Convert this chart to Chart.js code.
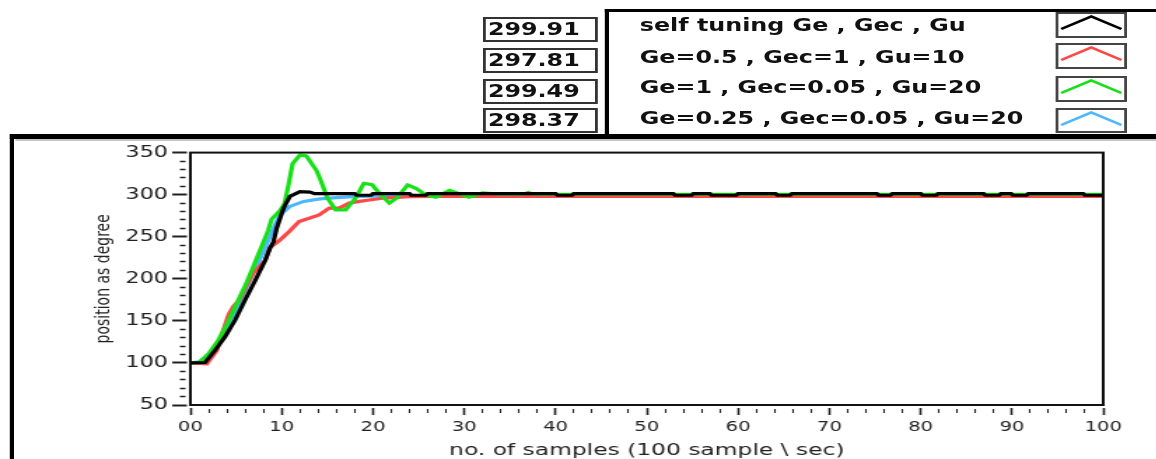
<!DOCTYPE html>
<html lang="en">
<head>
  <meta charset="UTF-8" />
  <title>Position response</title>
  <script src="https://cdn.jsdelivr.net/npm/chart.js"></script>
  <style>
    html, body { margin: 0; background: #fff; overflow: hidden; width: 1156px; height: 459px; }
    /* the whole picture is stretched sideways, so lay it out narrow and scale it */
    #page {
      position: absolute; left: 0; top: 0; width: 826px; height: 459px;
      transform: scaleX(1.4); transform-origin: 0 0;
      font-family: 'DejaVu Sans', sans-serif; color: #111;
    }
    #frame {
      position: absolute; left: 7.1px; top: 133.5px; width: 900px; height: 400px;
      border-left: 3.6px solid #000; border-top: 5.5px solid #000;
    }
    #shade { position: absolute; left: 10.7px; top: 139px; width: 900px; height: 1.5px; background: #c4c4c4; }
    #legend {
      position: absolute; left: 432px; top: 9.3px; width: 500px; height: 126px;
      border-left: 3px solid #000; border-top: 3px solid #000;
    }
    .val {
      position: absolute; left: 345px; width: 82px; height: 25px; box-sizing: border-box;
      border: 2px solid #333; font-weight: bold; font-size: 17px; line-height: 21px; padding-left: 1.5px;
    }
    .row { position: absolute; left: 457px; font-weight: bold; font-size: 17px; line-height: 20px; white-space: pre; }
    .sw { position: absolute; left: 754.3px; width: 50.7px; height: 25.5px; box-sizing: border-box; border: 2px solid #444; }
    .sw svg { display: block; }
    #plot { position: absolute; left: 11px; top: 140px; }
  </style>
</head>
<body>
<div id="page">
  <div id="frame"></div>
  <div id="shade"></div>
  <div id="legend"></div>
  <canvas id="plot" width="814" height="319"></canvas>
</div>
<script>
  // legend / readouts
  const seriesNames = ['self tuning Ge , Gec , Gu', 'Ge=0.5 , Gec=1 , Gu=10', 'Ge=1 , Gec=0.05 , Gu=20', 'Ge=0.25 , Gec=0.05 , Gu=20'];
  const finalValues = ['299.91', '297.81', '299.49', '298.37'];
  const seriesColors = ['#000000', '#ff4848', '#18e018', '#4cb8ff'];

  // axes
  const xTitle = 'no. of samples (100 sample \\ sec)';
  const yTitle = 'position as degree';

  // self tuning (black)
  const selfX = [0, 1.6, 2.7, 3.8, 4.9, 6.0, 7.1, 8.2, 8.7, 9.1, 9.45, 10.2, 10.9, 12.0, 13.1, 13.6,
    18.0, 18.2, 19.8, 20.0, 24.0, 24.2, 25.8, 26.0, 40.0, 40.2, 41.8, 42.0, 52.9, 53.1, 54.9, 55.1,
    56.9, 57.1, 59.8, 60.0, 64.1, 64.3, 65.7, 65.9, 75.2, 75.4, 76.7, 76.9, 80.0, 80.2, 81.7, 81.9,
    86.9, 87.1, 88.6, 88.8, 89.9, 90.1, 91.6, 91.8, 97.8, 98.0, 100];
  const selfY = [100, 100.5, 115, 131, 151, 175, 198, 222, 236, 244, 260, 284, 298, 303.6, 303, 301.2,
    301.2, 299.3, 299.3, 301.2, 301.2, 299.3, 299.3, 301.2, 301.2, 299.3, 299.3, 301.2, 301.2, 299.3, 299.3, 301.2,
    301.2, 299.3, 299.3, 301.2, 301.2, 299.3, 299.3, 301.2, 301.2, 299.3, 299.3, 301.2, 301.2, 299.3, 299.3, 301.2,
    301.2, 299.3, 299.3, 301.2, 301.2, 299.3, 299.3, 301.2, 301.2, 299.3, 299.3];

  // Ge=0.5 , Gec=1 , Gu=10 (red)
  const redX = [0, 1, 1.8, 2.9, 3.6, 4.2, 4.7, 5.3, 6.2, 6.9, 8.2, 8.7, 9.8, 10.8, 11.9, 13.0, 14.1, 15.2, 16.3, 17.4, 18.5, 19.6, 21.2, 24.0, 27.0, 100];
  const redY = [100, 99.5, 99, 115, 139, 158, 167, 174, 193, 207, 222, 237, 246, 256, 268, 272, 276, 284, 284, 290, 292, 293.6, 296, 297.5, 297.8, 297.8];

  // Ge=1 , Gec=0.05 , Gu=20 (green)
  const greenX = [0, 1, 2, 3, 4, 5, 6.1, 7.1, 7.6, 8.5, 8.9, 9.8, 10.3, 10.7, 11.2, 12.0, 12.7, 13.8, 14.2, 15.0, 15.9,
    17.0, 18.1, 19.0, 19.9, 20.7, 21.8, 22.6, 23.8, 24.8, 25.8, 26.9, 28.4, 29.5, 30.5, 32.0, 34.0, 36.5, 37.0, 37.5, 100];
  const greenY = [100, 101, 111, 126, 146, 169, 194, 220, 233, 257, 271, 281, 289, 309, 337, 347, 346, 329, 319, 296, 282,
    282, 296, 313.5, 312, 301.5, 290, 296, 311.5, 307, 299.5, 297, 305, 301, 297, 302, 300.5, 300.5, 302.5, 300.5, 300.5];

  // Ge=0.25 , Gec=0.05 , Gu=20 (blue)
  const blueX = [0, 1, 2, 3, 4, 5, 6, 7, 8, 9.1, 9.8, 10.9, 12.4, 14.2, 16.0, 17.8, 20.0, 100];
  const blueY = [100, 101, 110, 124, 142, 163, 186, 209, 232, 260, 276, 286, 292, 295, 296.5, 297.6, 298.2, 298.4];

  const page = document.getElementById('page');
  const valTops = [17, 48, 79, 108];
  const rowTops = [15, 46.7, 77.3, 108.3];
  const swTops = [12.3, 43.3, 76, 107.7];
  seriesNames.forEach((name, i) => {
    const v = document.createElement('div');
    v.className = 'val';
    v.style.top = valTops[i] + 'px';
    v.textContent = finalValues[i];
    page.appendChild(v);

    const r = document.createElement('div');
    r.className = 'row';
    r.style.top = rowTops[i] + 'px';
    r.textContent = name;
    page.appendChild(r);

    const s = document.createElement('div');
    s.className = 'sw';
    s.style.top = swTops[i] + 'px';
    s.innerHTML = '<svg width="46.7" height="21.5"><polyline points="2,15 23.5,2.5 45,15" fill="none" stroke="' +
      seriesColors[i] + '" stroke-width="2.5"/></svg>';
    page.appendChild(s);
  });

  const toPoints = (xs, ys) => xs.map((x, i) => ({ x: x, y: ys[i] }));
  const font = 'DejaVu Sans';

  // box round the plot area
  const plotFrame = {
    id: 'plotFrame',
    afterDraw(chart) {
      const { ctx, chartArea: a } = chart;
      ctx.save();
      ctx.strokeStyle = '#111';
      ctx.lineWidth = 2;
      ctx.strokeRect(a.left, a.top, a.right - a.left, a.bottom - a.top);
      ctx.restore();
    }
  };

  new Chart(document.getElementById('plot'), {
    type: 'line',
    data: {
      datasets: [
        { label: seriesNames[0], data: toPoints(selfX, selfY), borderColor: seriesColors[0], order: 0 },
        { label: seriesNames[1], data: toPoints(redX, redY), borderColor: seriesColors[1], order: 2 },
        { label: seriesNames[2], data: toPoints(greenX, greenY), borderColor: seriesColors[2], order: 1 },
        { label: seriesNames[3], data: toPoints(blueX, blueY), borderColor: seriesColors[3], order: 3 }
      ]
    },
    options: {
      responsive: false,
      animation: false,
      events: [],
      layout: { padding: { left: 0, top: 12, right: 37, bottom: 0 } },
      elements: { point: { radius: 0 }, line: { borderWidth: 3.2, tension: 0 } },
      plugins: { legend: { display: false }, tooltip: { enabled: false } },
      scales: {
        x: {
          type: 'linear', min: 0, max: 100,
          border: { display: false },
          grid: {
            drawOnChartArea: false, tickLength: 10, tickColor: '#222',
            tickWidth: c => c.tick.value % 10 === 0 ? 1.6 : 1.1,
            tickBorderDash: c => c.tick.value % 10 === 0 ? [0, 3, 7, 100] : [0, 4, 4, 100]
          },
          ticks: {
            stepSize: 2, autoSkip: false, maxRotation: 0, padding: 4, color: '#222',
            font: { family: font, size: 14 },
            callback: v => v % 10 === 0 ? (v === 0 ? '00' : String(v)) : ''
          },
          title: { display: true, text: xTitle, color: '#222', padding: 0, font: { family: font, size: 16.7, lineHeight: 1 } },
          afterFit: s => { s.height = 54; }
        },
        y: {
          min: 50, max: 350,
          border: { display: false },
          grid: {
            drawOnChartArea: false, tickLength: 13, tickColor: '#222',
            tickWidth: c => c.tick.value % 50 === 0 ? 2 : 1.5,
            tickBorderDash: c => c.tick.value % 50 === 0 ? [10.5, 100] : [0, 5.5, 4, 100]
          },
          ticks: {
            stepSize: 10, autoSkip: false, padding: 3, color: '#222',
            font: { family: font, size: 16 },
            callback: v => v % 50 === 0 ? String(v) : ''
          },
          title: { display: true, text: yTitle, color: '#222', padding: { top: 55, bottom: 0 }, font: { family: font, size: 14 } },
          afterFit: s => { s.width = 125; }
        }
      }
    },
    plugins: [plotFrame]
  });
</script>
</body>
</html>
